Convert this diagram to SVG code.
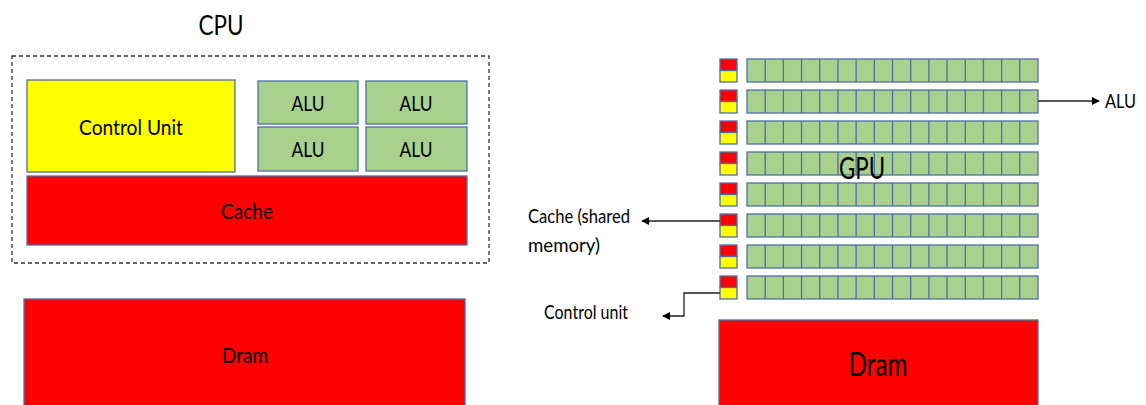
<svg xmlns="http://www.w3.org/2000/svg" xmlns:xlink="http://www.w3.org/1999/xlink" width="1146" height="405" viewBox="0 0 1146 405">
  <style>
    .lbl { font-family: Lato, "Open Sans", "Liberation Sans", sans-serif; fill: #000; }
    .blk { stroke: #4f6fa3; stroke-width: 1.3; }
    .red { fill: #ff0000; }
    .yel { fill: #ffff00; }
    .grn { fill: #a9d18e; }
    .conn { fill: none; stroke: #222; stroke-width: 1.3; }
  </style>
  <defs>
    <marker id="arrow" viewBox="0 0 10 10" refX="9" refY="5" markerWidth="8" markerHeight="8" orient="auto" markerUnits="userSpaceOnUse">
      <path d="M0,0 L10,5 L0,10 z" fill="#000"/>
    </marker>
    <!-- one SM row: cache/control square plus 16 ALU cells -->
    <g id="smrow">
      <rect class="blk red" x="720" y="0" width="17" height="11.5"/>
      <rect class="blk yel" x="720" y="11.5" width="17" height="11.5"/>
      <rect class="blk grn" x="747" y="0" width="291" height="23"/>
      <g class="blk" fill="none">
        <path d="M765.19,0V23M783.38,0V23M801.56,0V23M819.75,0V23M837.94,0V23M856.13,0V23M874.31,0V23M892.5,0V23M910.69,0V23M928.88,0V23M947.06,0V23M965.25,0V23M983.44,0V23M1001.63,0V23M1019.81,0V23"/>
      </g>
    </g>
  </defs>

  <rect width="1146" height="405" fill="#fff"/>

  <!-- CPU side -->
  <g id="cpu-title">
    <text class="lbl" x="221" y="35" font-size="27" text-anchor="middle" textLength="45" lengthAdjust="spacingAndGlyphs">CPU</text>
  </g>
  <g id="cpu-boundary">
    <rect x="12" y="56" width="477" height="207" fill="none" stroke="#333" stroke-width="1.3" stroke-dasharray="4 3"/>
  </g>
  <g id="cpu-control-unit">
    <rect class="blk yel" x="27" y="80" width="208" height="92"/>
    <text class="lbl" x="131" y="135" font-size="22" text-anchor="middle" textLength="104" lengthAdjust="spacingAndGlyphs">Control Unit</text>
  </g>
  <g id="cpu-alu-1">
    <rect class="blk grn" x="258" y="81" width="100" height="43"/>
    <text class="lbl" x="308" y="111" font-size="22" text-anchor="middle" textLength="33" lengthAdjust="spacingAndGlyphs">ALU</text>
  </g>
  <g id="cpu-alu-2">
    <rect class="blk grn" x="366" y="81" width="101" height="43"/>
    <text class="lbl" x="416" y="111" font-size="22" text-anchor="middle" textLength="33" lengthAdjust="spacingAndGlyphs">ALU</text>
  </g>
  <g id="cpu-alu-3">
    <rect class="blk grn" x="258" y="127" width="100" height="44"/>
    <text class="lbl" x="308" y="157" font-size="22" text-anchor="middle" textLength="33" lengthAdjust="spacingAndGlyphs">ALU</text>
  </g>
  <g id="cpu-alu-4">
    <rect class="blk grn" x="366" y="127" width="101" height="44"/>
    <text class="lbl" x="416" y="157" font-size="22" text-anchor="middle" textLength="33" lengthAdjust="spacingAndGlyphs">ALU</text>
  </g>
  <g id="cpu-cache">
    <rect class="blk red" x="27" y="176" width="440" height="69"/>
    <text class="lbl" x="247" y="219" font-size="22" text-anchor="middle" textLength="52" lengthAdjust="spacingAndGlyphs">Cache</text>
  </g>
  <g id="cpu-dram">
    <rect class="blk red" x="24" y="299" width="441" height="115"/>
    <text class="lbl" x="245" y="363" font-size="22" text-anchor="middle" textLength="46" lengthAdjust="spacingAndGlyphs">Dram</text>
  </g>

  <!-- GPU side -->
  <g id="gpu-sm-rows">
    <use xlink:href="#smrow" href="#smrow" transform="translate(0,59)"/>
    <use xlink:href="#smrow" href="#smrow" transform="translate(0,90)"/>
    <use xlink:href="#smrow" href="#smrow" transform="translate(0,121)"/>
    <use xlink:href="#smrow" href="#smrow" transform="translate(0,152)"/>
    <use xlink:href="#smrow" href="#smrow" transform="translate(0,183)"/>
    <use xlink:href="#smrow" href="#smrow" transform="translate(0,214)"/>
    <use xlink:href="#smrow" href="#smrow" transform="translate(0,245)"/>
    <use xlink:href="#smrow" href="#smrow" transform="translate(0,276)"/>
  </g>
  <g id="gpu-title">
    <text class="lbl" x="862" y="179" font-size="30" text-anchor="middle" textLength="46" lengthAdjust="spacingAndGlyphs">GPU</text>
  </g>
  <g id="gpu-dram">
    <rect class="blk red" x="719" y="320" width="319" height="95"/>
    <text class="lbl" x="878" y="376" font-size="32" text-anchor="middle" textLength="59" lengthAdjust="spacingAndGlyphs">Dram</text>
  </g>

  <!-- callout labels -->
  <g id="label-alu">
    <text class="lbl" x="1105" y="108" font-size="20" textLength="31" lengthAdjust="spacingAndGlyphs">ALU</text>
  </g>
  <g id="label-cache">
    <text class="lbl" x="528" y="223" font-size="20" textLength="102" lengthAdjust="spacingAndGlyphs">Cache (shared</text>
    <text class="lbl" x="528" y="252" font-size="20" textLength="72" lengthAdjust="spacingAndGlyphs">memory)</text>
  </g>
  <g id="label-control">
    <text class="lbl" x="544" y="319" font-size="20" textLength="84" lengthAdjust="spacingAndGlyphs">Control unit</text>
  </g>

  <!-- connectors -->
  <g id="connectors">
    <path class="conn" d="M1038,101 H1099" marker-end="url(#arrow)"/>
    <path class="conn" d="M720,221 H642" marker-end="url(#arrow)"/>
    <path class="conn" d="M720,293 H684 V316 H663" marker-end="url(#arrow)"/>
  </g>
</svg>
